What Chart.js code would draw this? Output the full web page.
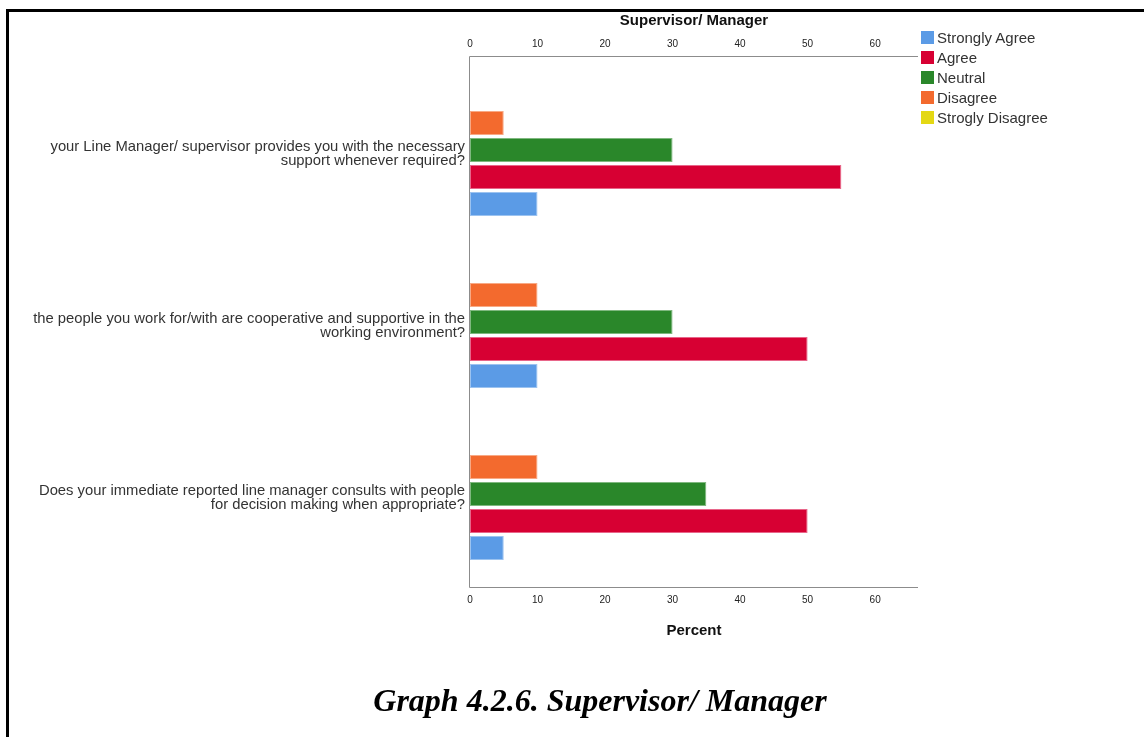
<!DOCTYPE html>
<html>
<head>
<meta charset="utf-8">
<script src="https://cdn.jsdelivr.net/npm/chart.js@4.4.0/dist/chart.umd.min.js"></script>
<style>
  html, body { margin:0; padding:0; background:#fff; }
  body { width:1144px; height:737px; position:relative; overflow:hidden; font-family:"Liberation Sans", Arial, sans-serif; }
  #frame { position:absolute; left:6px; top:9px; width:1200px; height:800px; border:3px solid #000; box-sizing:border-box; }
  #wrap { position:absolute; left:0; top:0; width:1144px; height:737px; }
  #title { position:absolute; top:11px; left:594px; width:200px; text-align:center; font-weight:bold; font-size:15px; line-height:17px; color:#111; }
  #xtitle { position:absolute; top:621px; left:594px; width:200px; text-align:center; font-weight:bold; font-size:15px; line-height:17px; color:#111; }
  #caption { position:absolute; top:680px; left:300px; width:600px; text-align:center; font-family:"Liberation Serif","Times New Roman",serif; font-weight:bold; font-style:italic; font-size:32px; line-height:40px; color:#000; }
  #legend { position:absolute; left:921px; top:27px; font-size:15px; color:#333; }
  .li { height:20px; display:flex; align-items:center; }
  .sw { width:13px; height:13px; margin-right:3px; box-sizing:border-box; }
</style>
</head>
<body>
<div id="frame"></div>
<div id="wrap"><canvas id="c" width="1144" height="737"></canvas></div>
<div id="title">Supervisor/ Manager</div>
<div id="xtitle">Percent</div>
<div id="legend"></div>
<div id="caption">Graph 4.2.6. Supervisor/ Manager</div>
<script>
// Data
const categories = [
  ["your Line Manager/ supervisor provides you with the necessary", "support whenever required?"],
  ["the people you work for/with are cooperative and supportive in the", "working environment?"],
  ["Does your immediate reported line manager consults with people", "for decision making when appropriate?"]
];
const seriesNames = ["Strongly Agree", "Agree", "Neutral", "Disagree", "Strogly Disagree"];
const stronglyAgree = [10, 10, 5];
const agree = [55, 50, 50];
const neutral = [30, 30, 35];
const disagree = [5, 10, 10];
const stronglyDisagree = [0, 0, 0];
const xTicks = [0, 10, 20, 30, 40, 50, 60];
const xMax = 66.2;

const colors = ["#5B9BE6", "#D70033", "#2A872A", "#F36A2E", "#E4D814"];
const borders = ["#9CC3F0", "#E8668A", "#7FB87F", "#F8A985", "#EFE675"];
const values = [stronglyAgree, agree, neutral, disagree, stronglyDisagree];

// Legend (HTML)
const lg = document.getElementById('legend');
seriesNames.forEach((n, i) => {
  const d = document.createElement('div'); d.className = 'li';
  d.innerHTML = '<div class="sw" style="background:' + colors[i] + '"></div><span>' + n + '</span>';
  lg.appendChild(d);
});

// datasets: top of cluster first (Strogly Disagree ... Strongly Agree)
const datasets = [];
for (let i = seriesNames.length - 1; i >= 0; i--) {
  datasets.push({
    label: seriesNames[i],
    data: values[i],
    backgroundColor: colors[i],
    borderColor: borders[i],
    borderWidth: 1,
    borderSkipped: false,
    categoryPercentage: 0.785,
    barPercentage: 0.89
  });
}

const framePlugin = {
  id: 'frame',
  afterDatasetsDraw(chart) {
    const a = chart.chartArea, ctx = chart.ctx;
    ctx.save();
    ctx.strokeStyle = '#8c8c8c';
    ctx.lineWidth = 1;
    ctx.beginPath();
    ctx.moveTo(a.right + 1, a.top - 7.5);
    ctx.lineTo(a.left - 0.5, a.top - 7.5);
    ctx.lineTo(a.left - 0.5, a.bottom + 7.5);
    ctx.lineTo(a.right + 1, a.bottom + 7.5);
    ctx.stroke();
    ctx.restore();
  }
};

const tickFont = { family: "'Liberation Sans', Arial, sans-serif", size: 10 };

new Chart(document.getElementById('c'), {
  type: 'bar',
  data: { labels: categories, datasets },
  options: {
    indexAxis: 'y',
    responsive: false,
    animation: false,
    layout: { padding: { left: 0, right: 227, top: 0, bottom: 0 } },
    plugins: { legend: { display: false }, tooltip: { enabled: false } },
    scales: {
      y: {
        type: 'category',
        grid: { display: false, drawTicks: false },
        border: { display: false },
        ticks: {
          color: '#333',
          padding: 5,
          labelOffset: 4,
          font: { family: "'Liberation Sans', Arial, sans-serif", size: 14.8, lineHeight: 0.92 }
        },
        afterFit(scale) { scale.width = 470; }
      },
      x: {
        type: 'linear', position: 'bottom', min: 0, max: xMax,
        grid: { display: false, drawTicks: false },
        border: { display: false },
        afterBuildTicks(scale) { scale.ticks = xTicks.map(v => ({ value: v })); },
        ticks: { color: '#222', padding: 14, font: tickFont, maxRotation: 0 },
        afterFit(scale) { scale.height = 157; }
      },
      x2: {
        type: 'linear', position: 'top', min: 0, max: xMax,
        grid: { display: false, drawTicks: false },
        border: { display: false },
        afterBuildTicks(scale) { scale.ticks = xTicks.map(v => ({ value: v })); },
        ticks: { color: '#222', padding: 14, font: tickFont, maxRotation: 0 },
        afterFit(scale) { scale.height = 64; }
      }
    }
  },
  plugins: [framePlugin]
});
</script>
</body>
</html>
